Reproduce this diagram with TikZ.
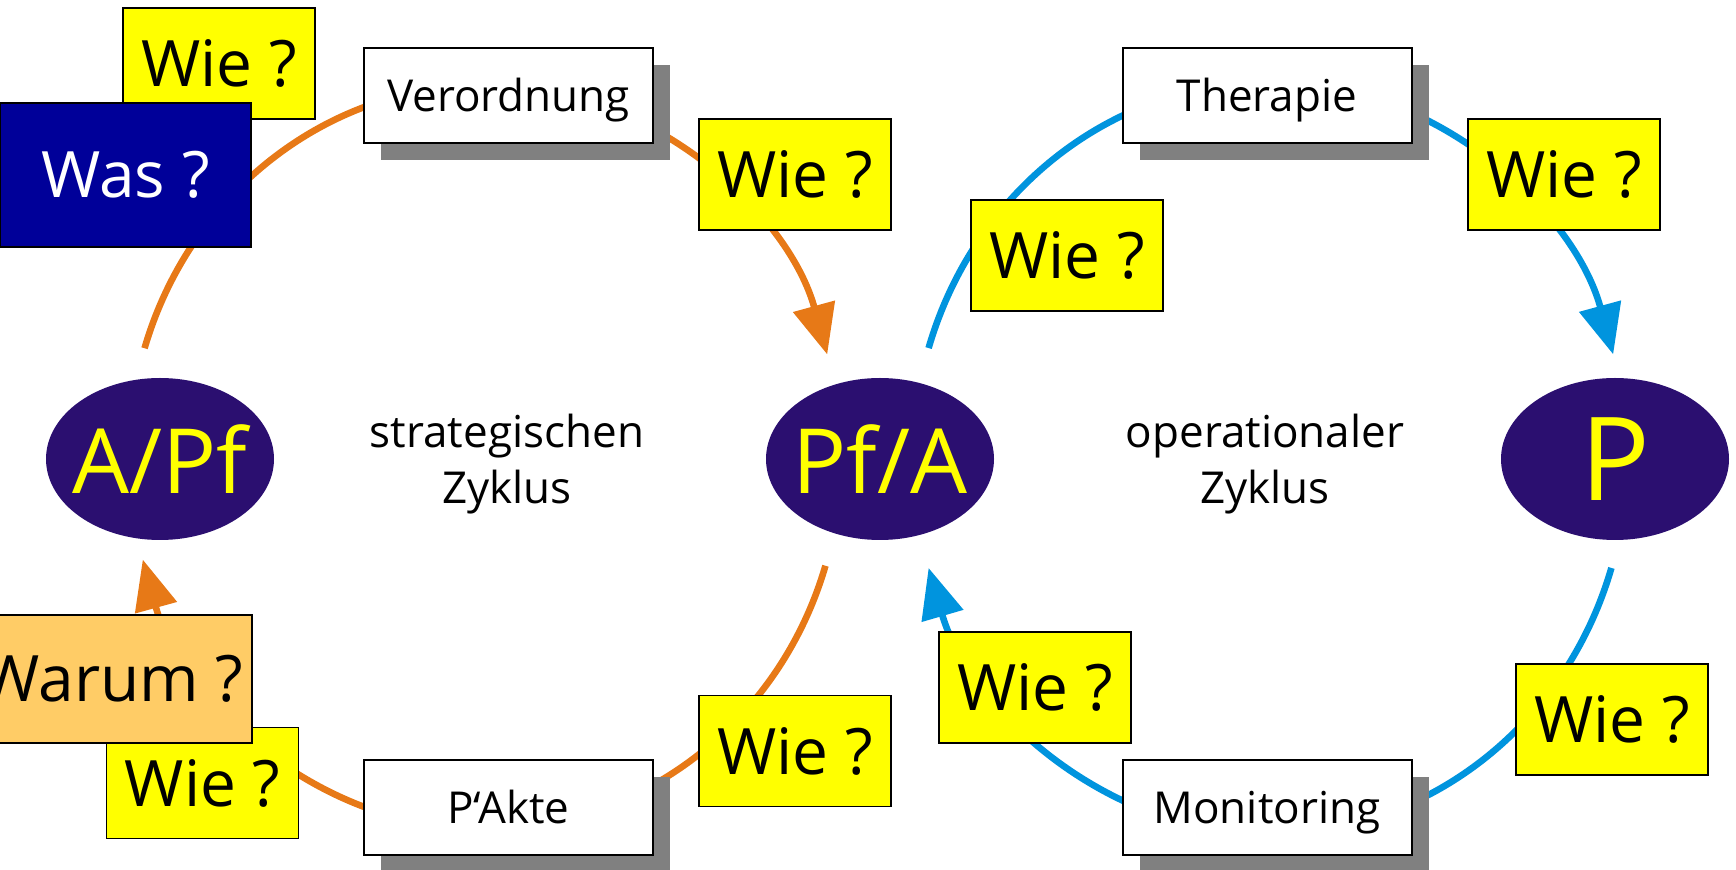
\documentclass[tikz,border=0pt]{standalone}
\usepackage{fontspec}
\setmainfont{Open Sans}
\usetikzlibrary{shapes.geometric,arrows.meta,shadows}
\definecolor{ovalblue}{RGB}{43,15,112}
\definecolor{wieyellow}{RGB}{255,255,0}
\definecolor{wasblue}{RGB}{0,0,153}
\definecolor{warumorange}{RGB}{255,204,102}
\definecolor{arcorange}{RGB}{231,121,23}
\definecolor{arcblue}{RGB}{0,148,222}
\definecolor{shadowgray}{RGB}{128,128,128}
\tikzset{
  qbox/.style={draw=black, line width=0.9pt, fill=wieyellow, minimum width=96pt,
    minimum height=55.5pt, inner sep=0pt, font=\fontsize{32}{38}\selectfont},
  bigbox/.style={draw=black, line width=0.9pt, inner sep=0pt, minimum width=125.5pt,
    minimum height=72pt, font=\fontsize{32}{38}\selectfont},
  labelbox/.style={draw=black, line width=1pt, fill=white, minimum width=144.5pt,
    minimum height=47.5pt, inner sep=0pt, font=\fontsize{22}{26}\selectfont,
    text height=18pt, text depth=1.5pt,
    drop shadow={shadow xshift=8.5pt, shadow yshift=-8.5pt, fill=shadowgray, opacity=1}},
  oval/.style={ellipse, fill=ovalblue, minimum width=114pt, minimum height=81pt,
    inner xsep=-20pt, inner ysep=-20pt, text=wieyellow},
  cycletext/.style={align=center, font=\fontsize{22}{28}\selectfont},
  orangearc/.style={draw=arcorange, line width=3.3pt, -{Triangle[length=25pt,width=21pt]}},
  bluearc/.style={draw=arcblue, line width=3.3pt, -{Triangle[length=25pt,width=21pt]}}
}
\begin{document}
\begin{tikzpicture}[x=0.5pt,y=-0.5pt]
\useasboundingbox (0,0) rectangle (1736,870);
\clip (0,0) rectangle (1736,870);

% cycle centres
\coordinate (lc) at (485,457);
\coordinate (rc) at (1270,458);

% arcs
\draw[orangearc] (lc) ++(-163:356 and 372) arc[start angle=-163, end angle=-16, x radius=356, y radius=372];
\draw[orangearc] (lc) ++(17:356 and 372) arc[start angle=17, end angle=164, x radius=356, y radius=372];
\draw[bluearc] (rc) ++(-163:357 and 376) arc[start angle=-163, end angle=-16, x radius=357, y radius=376];
\draw[bluearc] (rc) ++(17:357 and 376) arc[start angle=17, end angle=163, x radius=357, y radius=376];

% ovals
\node[oval, font=\fontsize{45}{50}\selectfont] (apf) at (160,459) {A/Pf};
\node[oval, font=\fontsize{45}{50}\selectfont] (pfa) at (880,459) {Pf/A};
\node[oval, font=\fontsize{58}{64}\selectfont] (p) at (1615,459) {\raisebox{-3pt}{P}};

% centre texts
\node[cycletext] (strat) at (507,464) {strategischen\\Zyklus};
\node[cycletext] (oper) at (1265,464) {operationaler\\Zyklus};

% labelled boxes
\node[labelbox] (verord) at (508.5,95.5) {Verordnung};
\node[labelbox] (thera) at (1267,95.5) {Therapie};
\node[labelbox] (pakte) at (508.5,807.5) {P‘Akte};
\node[labelbox] (monit) at (1267,807.5) {Monitoring};

% question boxes
\node[qbox] (w1) at (219,63.5) {Wie ?};
\node[qbox] (w2) at (795,174.5) {Wie ?};
\node[qbox] (w3) at (1067,255.5) {Wie ?};
\node[qbox] (w4) at (1564,174.5) {Wie ?};
\node[qbox] (w5) at (1612,719.5) {Wie ?};
\node[qbox] (w6) at (1035,687.5) {Wie ?};
\node[qbox] (w7) at (795,751) {Wie ?};
\node[qbox] (w8) at (202.5,783) {Wie ?};

\node[bigbox, fill=wasblue, text=white] (was) at (125.5,175) {Was ?};
\node[bigbox, fill=warumorange, minimum width=140pt, minimum height=64pt] (warum) at (112,679) {Warum ?};
\end{tikzpicture}
\end{document}
